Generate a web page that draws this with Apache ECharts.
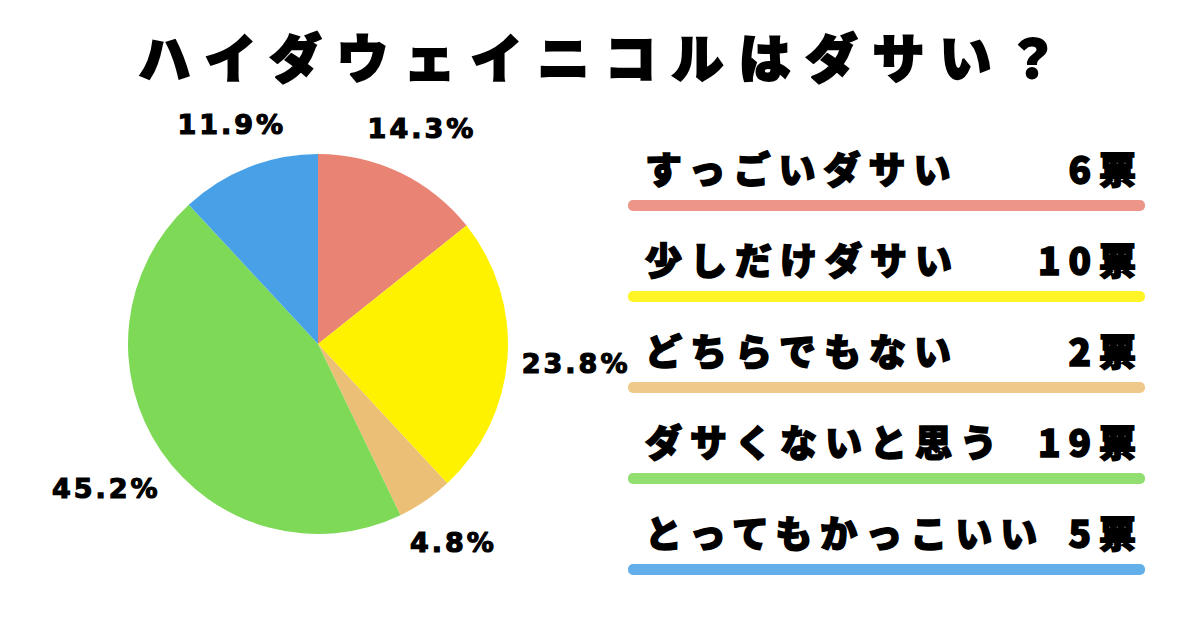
<!DOCTYPE html>
<html><head><meta charset="utf-8">
<script src="https://cdn.jsdelivr.net/npm/echarts@6/dist/echarts.min.js"></script>
<style>
html,body{margin:0;padding:0;background:#fff}
#c{width:1200px;height:630px}
text[style*="TitleF"]{letter-spacing:15px}
text[style*="RowF"]{letter-spacing:8px}
text[style*="PctF"]{letter-spacing:3px}
</style></head><body><div id="c"></div>
<script>
const titleText = 'ハイダウェイニコルはダサい？';
const categories = ['すっごいダサい', '少しだけダサい', 'どちらでもない', 'ダサくないと思う', 'とってもかっこいい'];
const votes = [6, 10, 2, 19, 5];
const colors = ['#E98373', '#FFF200', '#EBC076', '#7ED957', '#48A1E6'];
const unit = '票';

const cjk = '"Noto Sans CJK JP", TitleF';
const rowFont = '"Noto Sans CJK JP", RowF';
const pctFont = '"DejaVu Sans", PctF';

const PIE_C = [318, 344];
const PIE_R = 190;
const LABEL_GAP = 13;

const chart = echarts.init(document.getElementById('c'), null, {renderer: 'svg'});

const pieData = categories.map((n, i) => ({name: n, value: votes[i], itemStyle: {color: colors[i]}}));

const graphics = [{
  type: 'text', x: 606, y: 55,
  style: {text: titleText, fontFamily: cjk, fontWeight: 900, fontSize: 52, fill: '#000',
          stroke: '#000', lineWidth: 2, align: 'center', verticalAlign: 'middle'}
}];
categories.forEach((n, i) => {
  const y0 = 168 + i * 91;
  graphics.push({
    type: 'rect', shape: {x: 628, y: y0 + 32, width: 517, height: 11, r: 5},
    style: {fill: colors[i], opacity: 0.85}
  });
  graphics.push({
    type: 'text', x: 645, y: y0,
    style: {text: n, fontFamily: rowFont, fontWeight: 900, fontSize: 37, fill: '#000',
            stroke: '#000', lineWidth: 1.5, align: 'left', verticalAlign: 'middle'}
  });
  graphics.push({
    type: 'text', x: 1144, y: y0,
    style: {text: votes[i] + unit, fontFamily: rowFont, fontWeight: 900, fontSize: 37, fill: '#000',
            stroke: '#000', lineWidth: 1.5, align: 'right', verticalAlign: 'middle'}
  });
});

chart.setOption({
  animation: false,
  backgroundColor: '#fff',
  graphic: graphics,
  series: [{
    type: 'pie',
    center: PIE_C,
    radius: PIE_R,
    startAngle: 90,
    clockwise: true,
    percentPrecision: 1,
    emphasis: {disabled: true},
    silent: true,
    labelLine: {show: false},
    label: {
      show: true, position: 'inside', formatter: '{d}%',
      fontFamily: pctFont, fontWeight: 'bold', fontSize: 27, color: '#000',
      textBorderColor: '#000', textBorderWidth: 1.2
    },
    labelLayout: function (p) {
      const r = p.labelRect;
      const w = r.width + 15;
      const lx = r.x + r.width / 2, ly = r.y + r.height / 2;
      let dx = lx - PIE_C[0], dy = ly - PIE_C[1];
      const len = Math.sqrt(dx * dx + dy * dy) || 1;
      dx /= len; dy /= len;
      const d = PIE_R + LABEL_GAP + (w / 2) * Math.abs(dx) + (r.height / 2) * Math.abs(dy);
      return {x: PIE_C[0] + d * dx, y: PIE_C[1] + d * dy, align: 'center', verticalAlign: 'middle'};
    },
    data: pieData
  }]
});
</script></body></html>
